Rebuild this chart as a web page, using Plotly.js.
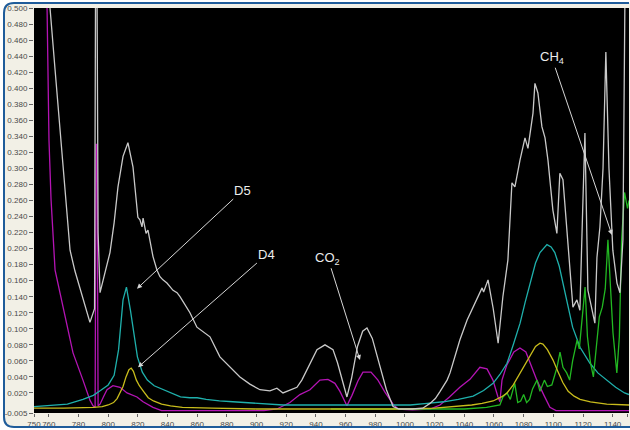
<!DOCTYPE html>
<html>
<head>
<meta charset="utf-8">
<script src="https://cdn.plot.ly/plotly-3.0.1.min.js"></script>
<style>
html,body{margin:0;padding:0;background:#ffffff;}
#chart{width:630px;height:430px;}
</style>
</head>
<body>
<div id="chart"></div>
<script>
// ---- tick labels ----
const xTickVals = [750,760,780,800,820,840,860,880,900,920,940,960,980,1000,1020,1040,1060,1080,1100,1120,1140,1150];
const xTickLabels = ["750","760","780","800","820","840","860","880","900","920","940","960","980","1000","1020","1040","1060","1080","1100","1120","1140","1150"];
const yTickVals = [-0.005,0.02,0.04,0.06,0.08,0.10,0.12,0.14,0.16,0.18,0.20,0.22,0.24,0.26,0.28,0.30,0.32,0.34,0.36,0.38,0.40,0.42,0.44,0.46,0.48,0.50];
const yTickLabels = ["-0.005","0.020","0.040","0.060","0.080","0.100","0.120","0.140","0.160","0.180","0.200","0.220","0.240","0.260","0.280","0.300","0.320","0.340","0.360","0.380","0.400","0.420","0.440","0.460","0.480","0.500"];

// ---- series (wavenumber, absorbance) ----
const measured = [
 [757.5,0.56],[760.8,0.50],[764.2,0.423],[767.5,0.348],[770.9,0.273],[774.3,0.198],[777.6,0.172],[782.3,0.142],[787.7,0.108],[790.8,0.125],
 [791.6,0.60],[792.3,0.60],[793.2,0.22],[794.5,0.145],[797.5,0.168],[801.2,0.195],[804,0.232],[806.6,0.277],[810,0.315],
 [813.3,0.332],[816.7,0.302],[820,0.239],[821.4,0.236],[822.8,0.227],[823.5,0.238],[825.5,0.219],[826.8,0.223],[828.8,0.202],[830.2,0.190],
 [832.9,0.173],[834.9,0.165],[836.9,0.161],[839.6,0.157],[843.7,0.148],[846.4,0.145],[848.4,0.140],[851.5,0.130],[855.1,0.120],[859.8,0.102],
 [864,0.096],[868.6,0.090],[875.3,0.065],[882,0.052],[888.8,0.040],[895.5,0.031],[902.3,0.024],[909,0.0225],[913.7,0.026],[917.8,0.020],
 [922.5,0.024],[927.2,0.027],[930.5,0.036],[934,0.049],[937.5,0.062],[940.7,0.074],[946.1,0.080],[951.5,0.074],[954.5,0.058],[958,0.034],
 [960.9,0.015],[964,0.038],[968,0.078],[971.5,0.097],[974.4,0.101],[978,0.088],[983.2,0.052],[987.5,0.024],[992,0.003],[996,0.0],
 [1005,0.0],[1012,0.001],[1016.9,0.007],[1020.5,0.013],[1023.7,0.022],[1028.4,0.036],[1030.4,0.045],[1034,0.066],[1037,0.086],[1041.9,0.111],
 [1045.5,0.125],[1048.6,0.136],[1052,0.151],[1053,0.146],[1056,0.161],[1059.5,0.125],[1062.8,0.082],[1066,0.140],[1069.4,0.186],[1072.1,0.282],
 [1074.1,0.277],[1077.5,0.310],[1080.9,0.338],[1082.9,0.325],[1086.3,0.369],[1087.6,0.406],[1089.6,0.394],[1092.3,0.352],[1094.4,0.338],[1096.4,0.310],
 [1099.7,0.248],[1102.4,0.219],[1104.4,0.294],[1106.5,0.286],[1109.2,0.219],[1113.2,0.127],[1115.9,0.136],[1117.9,0.123],[1119.8,0.250],[1121.3,0.344],
 [1123.3,0.148],[1128,0.107],[1129.4,0.189],[1131.4,0.227],[1133.5,0.300],[1135.4,0.445],[1137.5,0.300],[1140.1,0.198],[1142.9,0.157],[1144.9,0.145],
 [1146.9,0.211],[1148.2,0.50],[1149.6,0.57]
];
const magentaRef = [
 [758.4,0.535],[758.8,0.5],[760.1,0.335],[761.5,0.261],[764.2,0.173],[768.9,0.132],[776.3,0.070],[783,0.036],[787.7,0.011],[789.8,0.004],
 [791.2,0.002],[791.8,0.33],[792.5,0.33],[793.2,0.004],[794.5,0.006],[797,0.016],[799.2,0.024],[803.2,0.029],[808,0.027],[812.7,0.020],
 [819.4,0.015],[823.5,0.009],[830.2,0.002],[836,-0.002],[870,-0.002],[905,-0.002],[913.7,0.0],[918,0.004],[922.5,0.008],[929.2,0.018],
 [936,0.024],[942.7,0.036],[948.1,0.037],[952.8,0.032],[956.2,0.022],[960.9,0.004],[964.3,0.017],[968.3,0.035],[971.7,0.046],[977.1,0.046],
 [981.8,0.036],[986.5,0.021],[992,0.006],[995.3,0.0],[1005,-0.001],[1016.9,0.0],[1023.6,0.005],[1030,0.015],[1037,0.027],[1043.8,0.037],
 [1050.5,0.052],[1055.3,0.050],[1059.3,0.036],[1062.7,0.015],[1064,0.009],[1065.4,0.036],[1068.7,0.055],[1073.4,0.071],[1077.5,0.076],[1081.5,0.071],
 [1085.6,0.051],[1088.9,0.036],[1093.7,0.017],[1097.7,0.002],[1101.8,-0.002],[1151,-0.002]
];
const d5Ref = [
 [750,0.003],[760,0.004],[772.5,0.006],[783,0.012],[790,0.017],[794.8,0.023],[800,0.030],[804,0.042],[807,0.074],[810,0.136],
 [812.3,0.152],[815,0.123],[817.5,0.090],[819.7,0.065],[823,0.046],[826.4,0.036],[831,0.029],[837,0.024],[843,0.019],[848.7,0.015],
 [855,0.014],[860,0.014],[866,0.012],[875,0.010],[884,0.009],[900,0.007],[918,0.005],[940,0.005],[960,0.005],[980,0.005],
 [1003.5,0.005],[1015,0.007],[1026,0.009],[1036,0.012],[1046,0.016],[1053,0.023],[1059.4,0.032],[1064,0.043],[1068.8,0.057],[1073,0.080],
 [1077.6,0.107],[1081,0.133],[1084.3,0.157],[1088,0.182],[1091,0.195],[1095.7,0.205],[1098.5,0.202],[1101,0.195],[1104,0.178],[1106.4,0.157],
 [1110,0.125],[1113,0.102],[1118,0.077],[1124.7,0.057],[1130,0.045],[1136,0.036],[1142,0.027],[1148,0.020],[1151,0.018]
];
const d4Ref = [
 [750,0.001],[770,0.001],[790,0.002],[796,0.003],[800,0.005],[803.6,0.008],[806,0.013],[808,0.020],[810,0.028],[812,0.040],
 [814,0.049],[815.5,0.051],[817,0.047],[819,0.036],[821,0.029],[823.8,0.022],[827,0.014],[830.5,0.010],[836,0.006],[842,0.004],
 [850,0.002],[870,0.001],[900,0.0],[950,0.0],[1000,0.0],[1020,0.001],[1035,0.003],[1045,0.005],[1052,0.007],[1059.4,0.010],
 [1065,0.015],[1068.8,0.020],[1073,0.030],[1077.6,0.045],[1081,0.056],[1084.3,0.066],[1088,0.078],[1091,0.082],[1093,0.081],[1096,0.074],
 [1099.8,0.061],[1103,0.047],[1106.4,0.033],[1110,0.022],[1114,0.016],[1118,0.012],[1125,0.009],[1136,0.006],[1151,0.005]
];
const ch4Ref = [
 [950,0.0],[1000,0.0],[1040,0.0],[1055,0.002],[1060,0.004],[1064,0.005],[1066,0.015],[1068.8,0.020],[1071,0.012],[1074,0.032],
 [1076,0.008],[1078,0.010],[1080,0.018],[1082,0.008],[1084,0.012],[1086,0.025],[1089,0.036],[1091,0.022],[1094,0.036],[1096,0.028],
 [1099,0.030],[1102.5,0.052],[1104.5,0.071],[1106.5,0.052],[1109,0.045],[1111,0.036],[1113,0.060],[1116,0.086],[1117.5,0.075],[1119.4,0.111],
 [1121.4,0.152],[1123,0.090],[1125,0.058],[1127,0.040],[1129,0.080],[1131,0.115],[1133,0.127],[1135,0.150],[1136.8,0.211],[1138.5,0.150],
 [1140.2,0.095],[1142.8,0.045],[1144.5,0.090],[1146,0.210],[1148,0.270],[1150,0.250],[1151,0.260]
];

// ---- labels ----
const labelNames = ["D5","D4","CO<sub>2</sub>","CH<sub>4</sub>"];

function tr(pts, color, width){
  return {x: pts.map(p=>p[0]), y: pts.map(p=>p[1]), type:'scatter', mode:'lines',
          line:{color:color, width:width||1.3}, hoverinfo:'skip', showlegend:false};
}

const data = [
  tr(magentaRef,'#b414b4'),
  tr(d5Ref,'#1fb0ac'),
  tr(ch4Ref,'#22b822'),
  tr(d4Ref,'#c8bc1c'),
  tr(measured,'#c9c9c9')
];

const L=34, T=8, W=595, H=405;
function px(x){return (x-L)/W;}
function py(y){return (413-y)/H;}

const borderPath = 'M '+px(629)+','+py(3)+' L '+px(14)+','+py(3)+' Q '+px(4)+','+py(3)+' '+px(4)+','+py(13)+
  ' L '+px(4)+','+py(417)+' Q '+px(4)+','+py(427)+' '+px(14)+','+py(427)+' L '+px(630)+','+py(427);
const outsidePath = 'M '+px(0)+','+py(0)+' L '+px(630)+','+py(0)+' L '+px(630)+','+py(3)+' L '+px(14)+','+py(3)+
  ' Q '+px(4)+','+py(3)+' '+px(4)+','+py(13)+' L '+px(4)+','+py(417)+' Q '+px(4)+','+py(427)+' '+px(14)+','+py(427)+
  ' L '+px(630)+','+py(427)+' L '+px(630)+','+py(430)+' L '+px(0)+','+py(430)+' Z';

function ann(text, x, y, ax, ay){
  return {text:text, x:x, y:y, ax:ax, ay:ay, xref:'x', yref:'y', axref:'x', ayref:'y',
          showarrow:true, arrowhead:2, arrowsize:1, arrowwidth:1, arrowcolor:'#d6d6d6',
          font:{family:'Arial, Liberation Sans, sans-serif', size:13, color:'#ececec'}};
}

const layout = {
  width:630, height:430,
  margin:{l:L, r:1, t:T, b:17, pad:0},
  paper_bgcolor:'#f2f0e6',
  plot_bgcolor:'#000000',
  showlegend:false,
  xaxis:{range:[750,1151], tickmode:'array', tickvals:xTickVals, ticktext:xTickLabels, tickangle:0,
         showgrid:false, zeroline:false, showline:false, ticks:'outside', ticklen:3, tickcolor:'#666',
         tickfont:{family:'Arial, Liberation Sans, sans-serif', size:8, color:'#4a4a4a'}, fixedrange:true},
  yaxis:{range:[-0.005,0.5], tickmode:'array', tickvals:yTickVals, ticktext:yTickLabels,
         showgrid:false, zeroline:false, showline:false, ticks:'outside', ticklen:4, tickcolor:'#666',
         tickfont:{family:'Arial, Liberation Sans, sans-serif', size:8, color:'#4a4a4a'}, fixedrange:true},
  shapes:[
    {type:'path', xref:'paper', yref:'paper', path:outsidePath, fillcolor:'#ffffff', line:{width:0}, layer:'above'},
    {type:'path', xref:'paper', yref:'paper', path:borderPath, line:{color:'#1f5c9a', width:2}, layer:'above'}
  ],
  annotations:[
    ann(labelNames[0], 819.4, 0.150, 890.8, 0.273),
    ann(labelNames[1], 820.1, 0.052, 907, 0.193),
    ann(labelNames[2], 969.7, 0.061, 948.1, 0.188),
    ann(labelNames[3], 1139.5, 0.217, 1099, 0.438)
  ]
};

Plotly.newPlot('chart', data, layout, {displayModeBar:false, staticPlot:true});
</script>
</body>
</html>
